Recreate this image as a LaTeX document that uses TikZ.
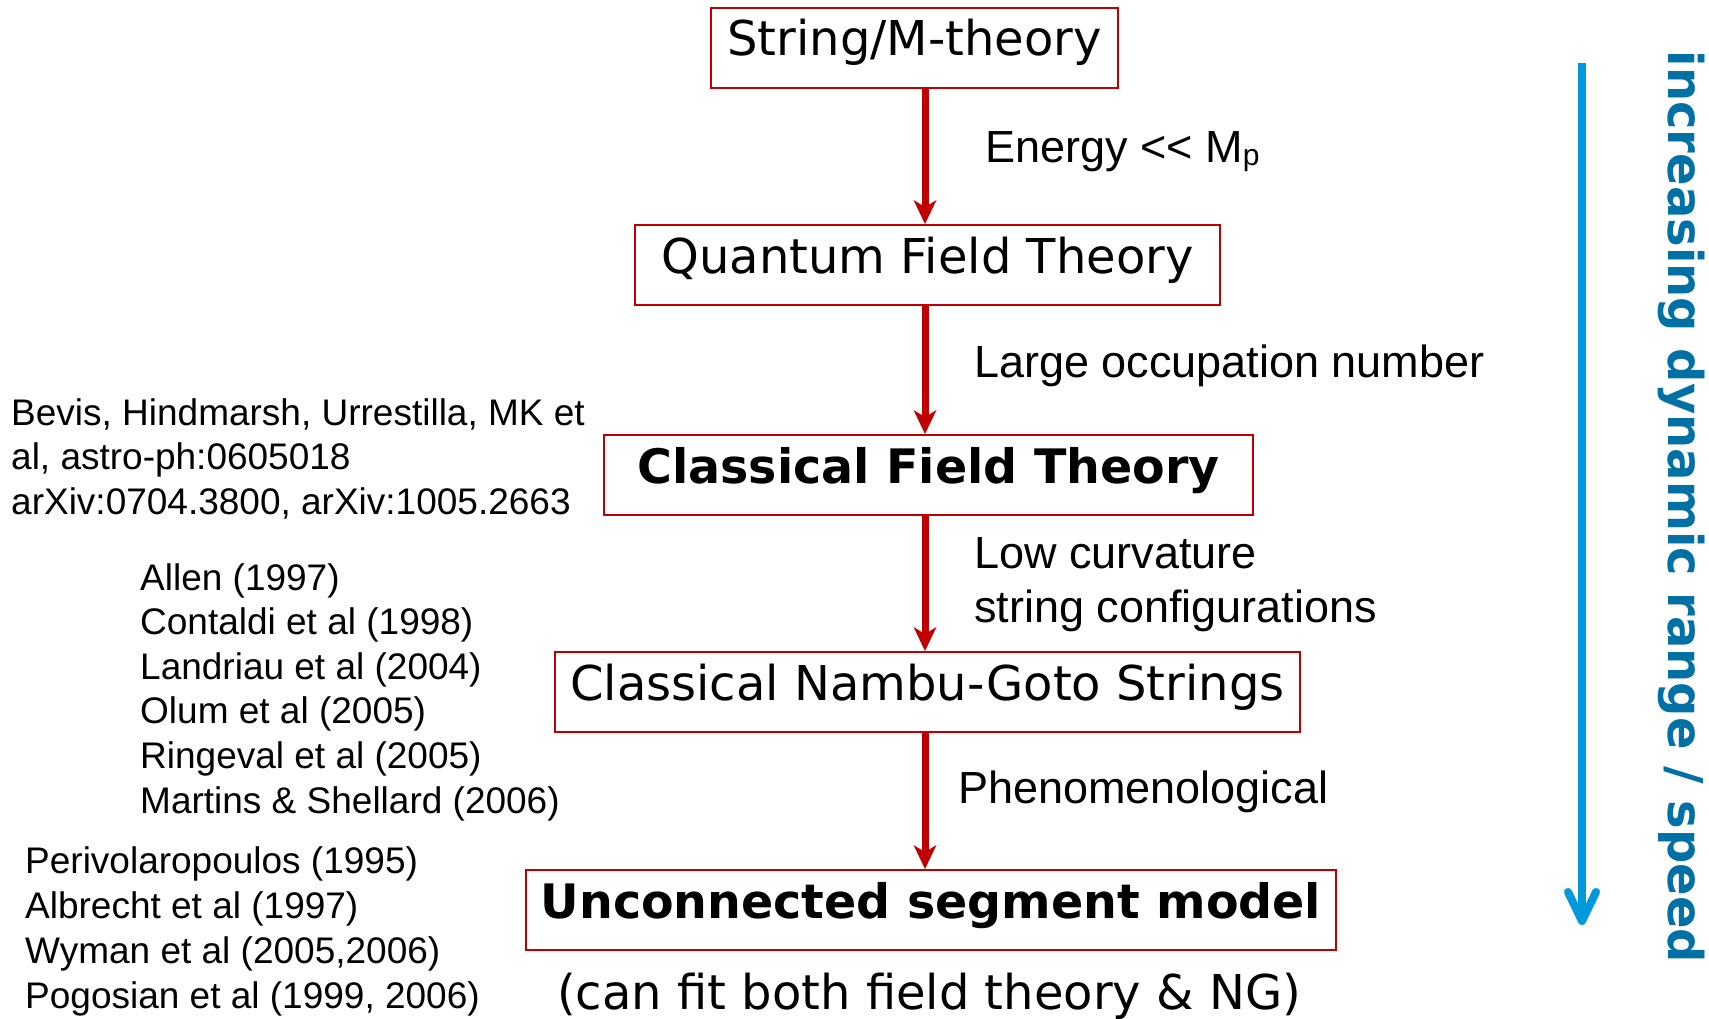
\documentclass[tikz,border=0pt]{standalone}
\usepackage{fontspec}
\setmainfont{Liberation Sans}
\newfontfamily\boxfont{DejaVu Sans}
\usetikzlibrary{arrows.meta,calc}
\definecolor{boxred}{RGB}{192,0,0}
\definecolor{arrowblue}{RGB}{0,153,221}
\definecolor{textblue}{RGB}{0,112,165}
\begin{document}
\begin{tikzpicture}[x=1pt,y=-1pt,
  flowbox/.style={draw=boxred, line width=2pt, rectangle, inner sep=0pt, anchor=north west,
    text height=48pt, text depth=32pt, font=\boxfont\fontsize{48}{58}\selectfont},
  boldbox/.style={flowbox, font=\boxfont\bfseries\fontsize{47.5}{58}\selectfont},
  flowarrow/.style={draw=boxred, line width=7pt,
    -{Stealth[length=24pt,width=23pt,inset=7pt,line width=0pt]}},
  steplabel/.style={anchor=base west, inner sep=0pt, font=\fontsize{45}{54}\selectfont},
  reflist/.style={anchor=base west, inner sep=0pt, font=\fontsize{37}{44}\selectfont},
  bluestroke/.style={line width=8pt},
]
\fill[white] (0,0) rectangle (1709,1019);
\useasboundingbox (0,0) rectangle (1709,1019);

% boxes
\node[flowbox, minimum width=407pt] (b1) at (710,7) {String/M-theory};
\node[flowbox, minimum width=585pt] (b2) at (634,224) {Quantum Field Theory};
\node[boldbox, minimum width=649pt] (b3) at (603,434) {Classical Field Theory};
\node[flowbox, minimum width=745pt] (b4) at (554,651) {Classical Nambu-Goto Strings};
\node[boldbox, minimum width=810pt] (b5) at (525,869) {Unconnected segment model};
\node[anchor=base, inner sep=0pt, font=\boxfont\fontsize{48}{58}\selectfont] (fit) at (929,1009) {(can fit both field theory \& NG)};

% red arrows
\coordinate (ax) at (925,0);
\draw[flowarrow] (b1.south -| ax) -- (b2.north -| ax);
\draw[flowarrow] (b2.south -| ax) -- (b3.north -| ax);
\draw[flowarrow] (b3.south -| ax) -- (b4.north -| ax);
\draw[flowarrow] (b4.south -| ax) -- (b5.north -| ax);

% step labels
\node[steplabel] (l1) at (985,163) {Energy <\kern0pt< M\raisebox{-3pt}{\fontsize{30}{30}\selectfont p}};
\node[steplabel] (l2) at (974,377) {Large occupation number};
\node[steplabel] (l3a) at (974,568) {Low curvature};
\node[steplabel] (l3b) at (974,622) {string configurations};
\node[steplabel] (l4) at (958,803) {Phenomenological};

% reference lists
\node[reflist] (r1) at (11,425) {Bevis, Hindmarsh, Urrestilla, MK et};
\node[reflist] (r2) at (11,469.5) {al, astro-ph:0605018};
\node[reflist] (r3) at (11,514) {arXiv:0704.3800, arXiv:1005.2663};

\node[reflist] (n1) at (140,590) {Allen (1997)};
\node[reflist] (n2) at (140,634.6) {Contaldi et al (1998)};
\node[reflist] (n3) at (140,679.2) {Landriau et al (2004)};
\node[reflist] (n4) at (140,723.8) {Olum et al (2005)};
\node[reflist] (n5) at (140,768.4) {Ringeval et al (2005)};
\node[reflist] (n6) at (140,813) {Martins \& Shellard (2006)};

\node[reflist] (u1) at (25,873) {Perivolaropoulos (1995)};
\node[reflist] (u2) at (25,918) {Albrecht et al (1997)};
\node[reflist] (u3) at (25,963) {Wyman et al (2005,2006)};
\node[reflist] (u4) at (25,1008) {Pogosian et al (1999, 2006)};

% blue arrow and rotated text
\coordinate (bt) at (1582,63);
\coordinate (bb) at (1582,921);
\begin{scope}[shift={(2.5,2.5)}, black, opacity=0.12]
  \draw[bluestroke] (bt) -- (bb);
  \draw[bluestroke, line cap=round, line join=round]
    ($(bb)+(-14,-29)$) -- (bb) -- ($(bb)+(14,-29)$);
\end{scope}
\draw[arrowblue, bluestroke] (bt) -- (bb);
\draw[arrowblue, bluestroke, line cap=round, line join=round]
  ($(bb)+(-14,-29)$) -- (bb) -- ($(bb)+(14,-29)$);
\node[rotate=-90, anchor=base, inner sep=0pt, text=textblue,
  font=\boxfont\bfseries\fontsize{48}{48}\selectfont] (rt) at (1668,507) {increasing dynamic range / speed};
\end{tikzpicture}
\end{document}
